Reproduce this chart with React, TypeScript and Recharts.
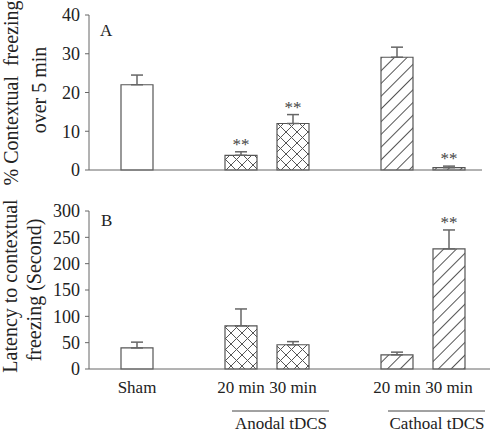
import React from 'react';
import { ComposedChart, Bar, Cell, ErrorBar, Scatter, XAxis, YAxis } from 'recharts';

// one slot per column, the two gaps keep the groups apart
const groups = ['sham', 'gap1', 'a20', 'a30', 'gap2', 'c20', 'c30'];
const tickLabels = ['Sham', '', '20 min', '30 min', '', '20 min', '30 min'];
const patterns = ['plain', 'plain', 'cross', 'cross', 'plain', 'hatch', 'hatch'];
const groupLabels = ['', '', 'Anodal tDCS', '', '', 'Cathoal tDCS', ''];

// panel A: % contextual freezing over 5 min
const freezing = [22, null, 3.8, 12, null, 29.1, 0.6];
const freezingErr = [2.5, null, 0.9, 2.3, null, 2.6, 0.4];
const freezingSig = [false, false, true, true, false, false, true];
const freezingTicks = [0, 10, 20, 30, 40];

// panel B: latency to contextual freezing (s)
const latency = [40, null, 82, 46, null, 27, 228];
const latencyErr = [11, null, 32, 6, null, 5, 36];
const latencySig = [false, false, false, false, false, false, true];
const latencyTicks = [0, 50, 100, 150, 200, 250, 300];

const FONT = '"Liberation Serif", "Times New Roman", serif';
const INK = '#555';

const build = (vals: (number | null)[], errs: (number | null)[], sig: boolean[]) =>
  groups.map((g, i) => ({
    g,
    value: vals[i],
    err: errs[i] == null ? undefined : [0, errs[i]],
    star: sig[i] && vals[i] != null ? (vals[i] as number) + (errs[i] as number) : null,
    pattern: patterns[i],
  }));

const freezingData = build(freezing, freezingErr, freezingSig);
const latencyData = build(latency, latencyErr, latencySig);

const fillFor = (p: string) => (p === 'cross' ? 'url(#cross)' : p === 'hatch' ? 'url(#hatch)' : '#fff');

const Stars = (props: any) => {
  if (props.payload == null || props.payload.star == null) return <g />;
  return (
    <text x={props.cx} y={props.cy - 2} textAnchor="middle" fontSize={17} fill="#444" fontFamily={FONT}>
      **
    </text>
  );
};

const tickStyle = { fontSize: 18, fill: '#222', fontFamily: FONT };

const BottomTick = (props: any) => {
  const { x, y, index } = props;
  const grp = groupLabels[index];
  return (
    <g fontFamily={FONT} fill="#222">
      <text x={x} y={y + 24} textAnchor="middle" fontSize={17}>
        {tickLabels[index]}
      </text>
      {grp ? (
        <g>
          <line x1={x - 9} x2={x + 88} y1={y + 42} y2={y + 42} stroke="#444" strokeWidth={1} />
          <text x={x + 40} y={y + 60} textAnchor="middle" fontSize={17}>
            {grp}
          </text>
        </g>
      ) : null}
    </g>
  );
};

const titleA = () => (
  <g fontFamily={FONT} fill="#222">
    <text transform="translate(11,93) rotate(-90)" textAnchor="middle" dominantBaseline="central" fontSize={20} style={{ whiteSpace: 'pre' }}>
      % Contextual  freezing
    </text>
    <text transform="translate(39,90) rotate(-90)" textAnchor="middle" dominantBaseline="central" fontSize={20}>
      over 5 min
    </text>
    <text x={100} y={36} fontSize={17}>A</text>
  </g>
);

const titleB = () => (
  <g fontFamily={FONT} fill="#222">
    <text transform="translate(10,96) rotate(-90)" textAnchor="middle" dominantBaseline="central" fontSize={20}>
      Latency to contextual
    </text>
    <text transform="translate(34,100) rotate(-90)" textAnchor="middle" dominantBaseline="central" fontSize={20}>
      freezing (Second)
    </text>
    <text x={101} y={36} fontSize={17}>B</text>
  </g>
);

export default function App() {
  return (
    <div style={{ position: 'absolute', left: 0, top: 0, width: 491, height: 433, background: '#fff' }}>
      <svg width={0} height={0} style={{ position: 'absolute' }}>
        <defs>
          <pattern id="cross" patternUnits="userSpaceOnUse" width={11} height={11}>
            <rect width={11} height={11} fill="#fff" />
            <path d="M0,0 L11,11 M11,0 L0,11" stroke={INK} strokeWidth={1} />
          </pattern>
          <pattern id="hatch" patternUnits="userSpaceOnUse" width={9} height={9} patternTransform="rotate(45)">
            <rect width={9} height={9} fill="#fff" />
            <line x1={4.5} y1={0} x2={4.5} y2={9} stroke={INK} strokeWidth={1} />
          </pattern>
        </defs>
      </svg>

      <div style={{ position: 'absolute', left: 0, top: 0 }}>
        <ComposedChart width={491} height={190} data={freezingData} margin={{ top: 15, right: 9, left: 0, bottom: 0 }}>
          <XAxis dataKey="g" height={20} tick={false} tickLine={false} stroke="#666" padding={{ left: 22, right: 7 }} />
          <YAxis
            width={89}
            domain={[0, 40]}
            ticks={freezingTicks}
            tick={tickStyle}
            tickSize={4}
            tickMargin={5}
            stroke="#666"
            label={titleA}
          />
          <Bar dataKey="value" barSize={32} stroke={INK} strokeWidth={1.2} isAnimationActive={false}>
            {freezingData.map((d) => (
              <Cell key={d.g} fill={fillFor(d.pattern)} />
            ))}
            <ErrorBar dataKey="err" width={6} stroke="#666" strokeWidth={1.5} direction="y" />
          </Bar>
          <Scatter dataKey="star" shape={Stars} isAnimationActive={false} />
        </ComposedChart>
      </div>

      <div style={{ position: 'absolute', left: 0, top: 190 }}>
        <ComposedChart width={491} height={243} data={latencyData} margin={{ top: 21, right: 1, left: 0, bottom: 0 }}>
          <XAxis
            dataKey="g"
            height={64}
            interval={0}
            tickLine={false}
            tickSize={0}
            tickMargin={0}
            tick={BottomTick}
            stroke="#666"
            padding={{ left: 22, right: 15 }}
          />
          <YAxis
            width={89}
            domain={[0, 300]}
            ticks={latencyTicks}
            tick={tickStyle}
            tickSize={4}
            tickMargin={5}
            stroke="#666"
            label={titleB}
          />
          <Bar dataKey="value" barSize={32} stroke={INK} strokeWidth={1.2} isAnimationActive={false}>
            {latencyData.map((d) => (
              <Cell key={d.g} fill={fillFor(d.pattern)} />
            ))}
            <ErrorBar dataKey="err" width={6} stroke="#666" strokeWidth={1.5} direction="y" />
          </Bar>
          <Scatter dataKey="star" shape={Stars} isAnimationActive={false} />
        </ComposedChart>
      </div>
    </div>
  );
}
